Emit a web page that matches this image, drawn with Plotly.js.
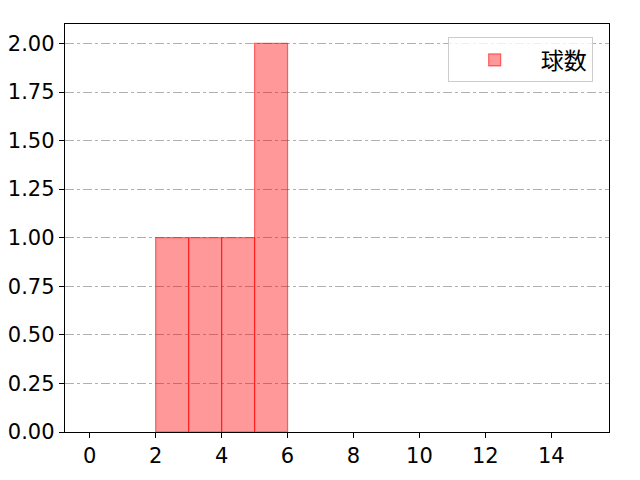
<!DOCTYPE html>
<html>
<head>
<meta charset="utf-8">
<script src="https://cdn.plot.ly/plotly-3.0.1.min.js"></script>
<style>html,body{margin:0;padding:0;background:#fff;}#chart{width:640px;height:480px;}</style>
</head>
<body>
<div id="chart"></div>
<script>
const binStarts = [2, 3, 4, 5];
const counts = [1, 1, 1, 2];
const seriesName = "球数";
const xTicks = [0, 2, 4, 6, 8, 10, 12, 14];
const yTicks = [0, 0.25, 0.5, 0.75, 1.0, 1.25, 1.5, 1.75, 2.0];

const trace = {
  type: "bar",
  x: binStarts,
  y: counts,
  width: 1,
  offset: 0,
  name: seriesName,
  showlegend: true,
  marker: {color: "rgba(255,0,0,0.4)", line: {color: "rgba(255,0,0,0.55)", width: 1.2}}
};

const tickFont = {family: "'DejaVu Sans', sans-serif", size: 21, color: "#000"};
const cjkFont = "'Noto Sans CJK JP', 'DejaVu Sans', sans-serif";

const layout = {
  width: 640, height: 480,
  margin: {l: 65, r: 31, t: 24, b: 48},
  paper_bgcolor: "#fff", plot_bgcolor: "#fff",
  font: {family: cjkFont, size: 20, color: "#000"},
  bargap: 0,
  xaxis: {
    range: [-0.75, 15.75], tickvals: xTicks, ticktext: xTicks.map(String), tickfont: tickFont,
    showgrid: false, zeroline: false, showline: true, linecolor: "#000", linewidth: 1.2, mirror: true,
    ticks: "outside", ticklen: 5, tickcolor: "#000"
  },
  yaxis: {
    range: [0, 2.1], tickvals: yTicks, ticktext: yTicks.map(v => v.toFixed(2)), tickfont: tickFont,
    showgrid: true, gridcolor: "#b0b0b0", griddash: "dashdot", gridwidth: 1,
    zeroline: false, showline: true, linecolor: "#000", linewidth: 1.2, mirror: true,
    ticks: "outside", ticklen: 5, tickcolor: "#000"
  },
  legend: {
    x: 0.97, y: 0.967, xanchor: "right", yanchor: "top",
    bgcolor: "rgba(255,255,255,0.8)", bordercolor: "#cccccc", borderwidth: 1,
    itemwidth: 82,
    font: {family: cjkFont, size: 23, color: "#000"}
  }
};

Plotly.newPlot("chart", [trace], layout, {displayModeBar: false, staticPlot: true});
</script>
</body>
</html>
